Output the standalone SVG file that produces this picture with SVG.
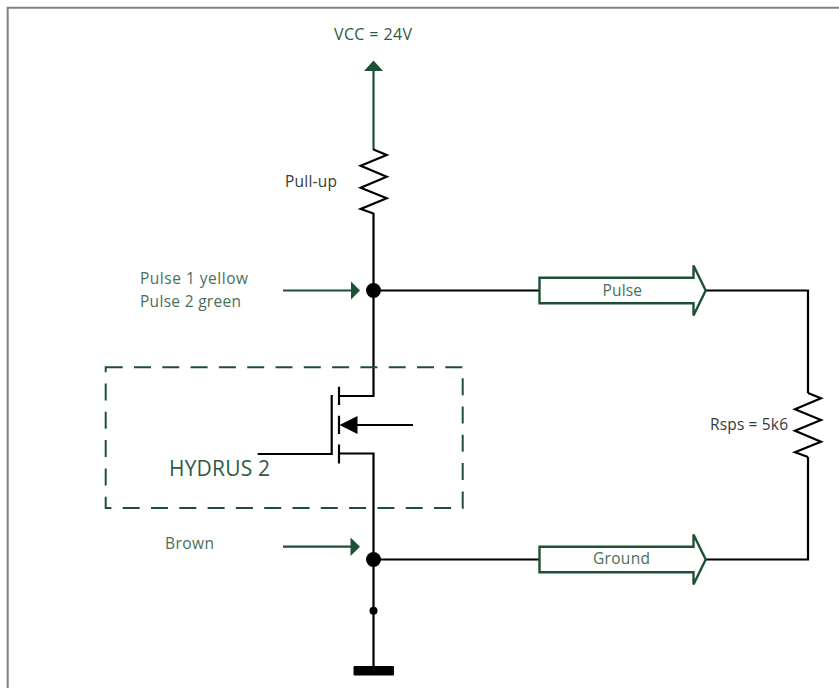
<svg xmlns="http://www.w3.org/2000/svg" width="839" height="688" viewBox="0 0 839 688">
<style>
text{font-family:"Open Sans","Noto Sans","Liberation Sans",sans-serif;font-size:15.5px}
.g{fill:#4a7058}.d{fill:#2f5a45}.k{fill:#3a3a3a}
.w{fill:none;stroke:#000;stroke-width:2.2;stroke-linejoin:miter}
.gl{fill:none;stroke:#1f5035;stroke-width:2.2}
.ba{fill:#fff;stroke:#1f5035;stroke-width:2.4;stroke-linejoin:miter}
.gf{fill:#1f5035}
</style>
<rect x="0" y="0" width="839" height="688" fill="#fff"/>
<path d="M7.7 688V7.7H839" fill="none" stroke="#808080" stroke-width="2"/>
<g id="connectors">
<path class="gl" d="M373.5 150V68"/>
<path class="w" d="M373.5 213V396H339M339 453.5H373.5V666M373.5 290.5H540M706 290.5H808V393M808 457V559.5H706M373.5 559.5H540"/>
<path class="gl" d="M283 290.5H353M283 546.7H353"/>
</g>
<g id="vcc">
<polygon class="gf" points="373.5,60.5 383,71 364,71"/>
<text class="d" x="334" y="40" textLength="78" style="font-size:16px">VCC = 24V</text>
</g>
<g id="pullup">
<polyline class="w" points="373.5,149.5 386.7,155 360.7,165.7 386.7,176.7 360.7,187.7 386.7,198.3 360.7,209 373.5,213.5"/>
<text class="k" x="285" y="187" textLength="52">Pull-up</text>
</g>
<g id="pulse-input">
<polygon class="gf" points="360,290.5 351,281.5 351,299.5"/>
<text class="g" x="140" y="284" textLength="108">Pulse 1 yellow</text>
<text class="g" x="140" y="307" textLength="101">Pulse 2 green</text>
</g>
<g id="node-pulse"><circle cx="373.5" cy="290.5" r="7.5"/></g>
<g id="hydrus">
<rect x="105.7" y="367.3" width="357" height="140.7" fill="none" stroke="#1f5035" stroke-width="2" stroke-dasharray="17 11.3"/>
<text class="d" x="169" y="476" textLength="101" style="font-size:21px">HYDRUS 2</text>
</g>
<g id="mosfet">
<path class="w" d="M339 386.7V405M339 415.7V434M339 444.5V463.5M331.7 395V454H257.7M413 425H356"/>
<polygon points="339.5,425 357.5,416 357.5,434"/>
</g>
<g id="brown-input">
<polygon class="gf" points="360,546.7 350.5,537.5 350.5,556"/>
<text class="g" x="165" y="549.3" textLength="49">Brown</text>
</g>
<g id="node-ground"><circle cx="373.5" cy="559.5" r="7.5"/></g>
<g id="test-point"><circle cx="373.5" cy="610.7" r="4"/></g>
<g id="ground-bar"><rect x="353.5" y="666" width="40.5" height="9.5" rx="1"/></g>
<g id="pulse-arrow">
<polygon class="ba" points="539.5,277.7 693.5,277.7 693.5,265.5 705.7,290.5 693.5,315.5 693.5,303.3 539.5,303.3"/>
<text class="g" x="602.5" y="295.5" textLength="39.5">Pulse</text>
</g>
<g id="rsps">
<polyline class="w" points="808,393 821,398.3 795,409.3 821,420 795,430.7 821,441.7 795,452.3 808,457"/>
<text class="k" x="710" y="430" textLength="78">Rsps = 5k6</text>
</g>
<g id="ground-arrow">
<polygon class="ba" points="539.5,546.7 693.5,546.7 693.5,534.5 705.7,559.5 693.5,584.5 693.5,572.3 539.5,572.3"/>
<text class="g" x="593" y="564" textLength="57">Ground</text>
</g>
</svg>
